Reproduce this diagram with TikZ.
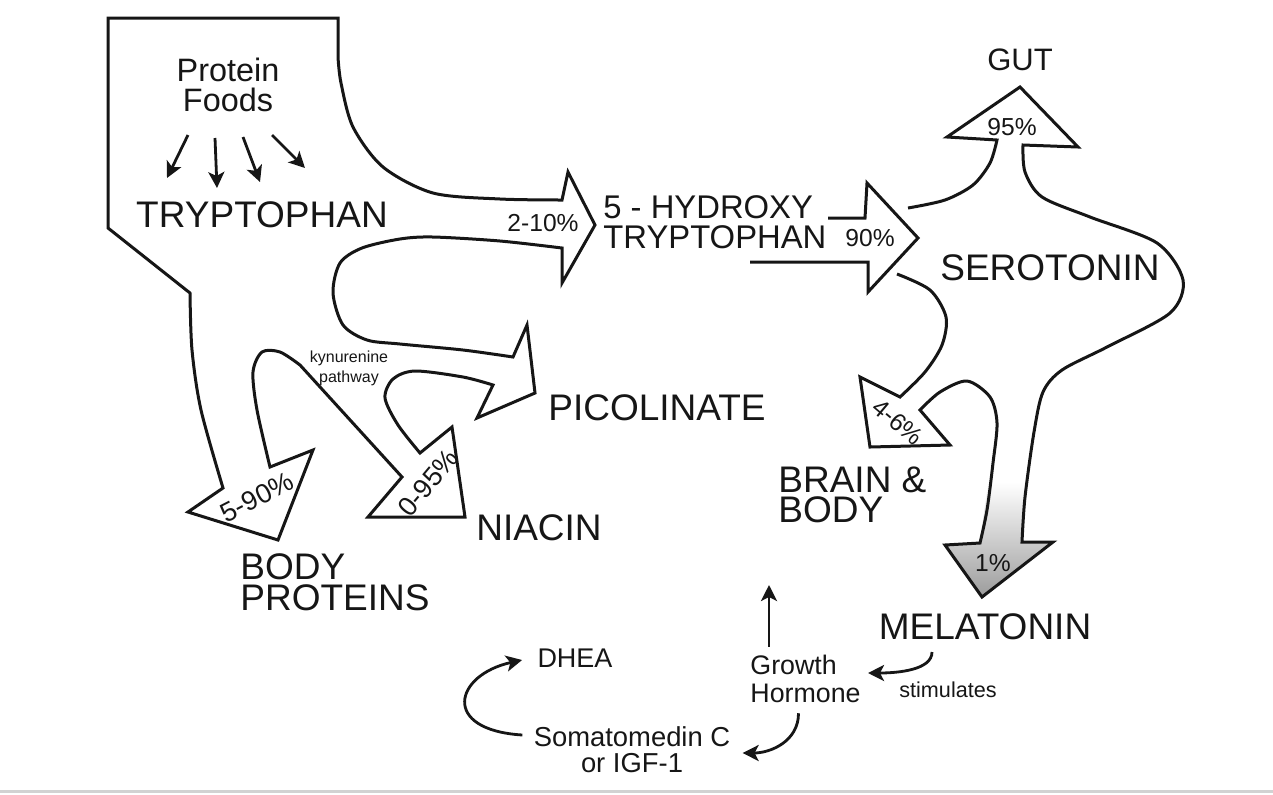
\documentclass[tikz,border=0pt]{standalone}
\usepackage{fontspec}
\setmainfont{Liberation Sans}
\usepackage{xcolor}
\usepackage{tikz}
\usetikzlibrary{positioning,arrows.meta,calc}
\definecolor{trpink}{HTML}{161616}
\definecolor{trpshade}{HTML}{9C9C9C}
\definecolor{trpedge}{HTML}{D2D2D2}

\begin{document}
\begin{tikzpicture}[x=0.5pt,y=-0.5pt,
  flow/.style={draw=trpink,line width=1.5pt},
  big/.style={font=\fontsize{18.5}{15.5}\selectfont,text=trpink,inner sep=0pt,align=left},
  mid/.style={font=\fontsize{16.2}{15}\selectfont,text=trpink,inner sep=0pt,align=left},
  small/.style={font=\fontsize{13.5}{13.5}\selectfont,text=trpink,inner sep=0pt,align=center},
  pct/.style={font=\fontsize{12.3}{12}\selectfont,text=trpink,inner sep=0pt},
  arr/.style={-{Stealth[length=8pt,width=8pt,inset=2pt]},draw=trpink,line width=1.4pt}
]
\useasboundingbox (0,0) rectangle (1273,794);
\draw[trpedge,line width=1.5pt] (0,791) -- (1273,791);

% tryptophan body with its four outlets
\draw[flow] (338,18) -- (108,18) -- (108,228) -- (190,293)
  -- plot[smooth] coordinates {(190,293) (192,350) (201,410) (223,488)}
  -- (188,512) -- (278,540) -- (313,450) -- (270,467)
  -- plot[smooth] coordinates {(270,467) (257,410) (253,372) (262,352) (280,352) (300,365)}
  -- (402,477) -- (368,517) -- (465,517) -- (452,427) -- (420,453)
  -- plot[smooth] coordinates {(420,453) (398,425) (385,398) (393,379) (415,371) (463,377) (493,385)}
  -- (477,418) -- (535,393) -- (527,325) -- (513,357)
  -- plot[smooth] coordinates {(513,357) (463,350) (400,344) (367,340) (343,325) (333,293) (340,263) (362,248) (400,239) (433,237) (500,241) (562,248)}
  -- (562,283) -- (595,225) -- (568,172) -- (562,200)
  -- plot[smooth] coordinates {(562,200) (500,199) (433,193) (383,167) (353,127) (341,83) (338,57)}
  -- cycle;

% serotonin arrow
\draw[flow] (828,218) -- (865,218) -- (867,183) -- (918,238) -- (868,292) -- (868,262) -- (750,262);

% melatonin shading
\shade[top color=white,bottom color=trpshade] (988,482) -- (1026,482) -- (1022,542) -- (1053,542) -- (982,597) -- (945,545) -- (980,543) -- cycle;

% serotonin outlets: gut, melatonin, brain and body
\draw[flow] plot[smooth] coordinates {(908,208) (945,200) (973,185) (990,163) (997,140)}
  -- (947,137) -- (1020,87) -- (1078,147) -- (1023,145)
  -- plot[smooth] coordinates {(1023,145) (1025,172) (1042,197) (1090,217) (1157,243) (1183,280) (1170,313) (1107,347) (1062,370) (1043,392) (1034,432) (1025,497) (1022,542)}
  -- (1053,542) -- (982,597) -- (945,545) -- (980,543)
  -- plot[smooth] coordinates {(980,543) (987,510) (993,463) (997,423) (990,397) (967,381) (940,392) (920,410)}
  -- (950,445) -- (870,447) -- (860,377) -- (900,397)
  -- plot[smooth] coordinates {(900,397) (925,372) (942,345) (946,317) (930,290) (897,274)};

\node[mid,align=center] (foods) at (228,85) {Protein\\Foods};
\node[big] (trp) at (262,215) {TRYPTOPHAN};
\node[mid,anchor=west,font=\fontsize{16.4}{15}\selectfont] (htp) at (603,222) {5 - HYDROXY\\TRYPTOPHAN};
\node[big] (gut) at (1020,60) {\fontsize{15.5}{15}\selectfont GUT};
\node[big] (sero) at (1050,268) {SEROTONIN};
\node[big] (pico) at (657,408) {PICOLINATE};
\node[big] (niacin) at (539,528) {NIACIN};
\node[big,anchor=west] (bodyprot) at (240,582) {BODY\\PROTEINS};
\node[big,anchor=west,font=\fontsize{18.5}{15}\selectfont] (brain) at (778,495) {BRAIN \&\\BODY};
\node[big] (mel) at (985,627) {MELATONIN};
\node[small,anchor=west,align=left,font=\fontsize{13.4}{14}\selectfont] (gh) at (750,679) {Growth\\Hormone};
\node[small,font=\fontsize{13.7}{13}\selectfont] (soma) at (632,750) {Somatomedin C\\or IGF-1};
\node[small] (dhea) at (575,658) {DHEA};
\node[pct,font=\fontsize{10.8}{10}\selectfont] (stim) at (948,690) {stimulates};
\node[pct,align=center,font=\fontsize{8}{10}\selectfont] (kyn) at (349,368) {kynurenine\\pathway};

\node[pct] (p210) at (543,223) {2-10\%};
\node[pct] (p90) at (870,238) {90\%};
\node[pct] (p95) at (1012,127) {95\%};
\node[pct] (p1) at (993,563) {1\%};
\node[pct,font=\fontsize{13.5}{12}\selectfont,rotate=27] (p590) at (257,497) {5-90\%};
\node[pct,font=\fontsize{13.5}{12}\selectfont,rotate=50] (p095) at (428,483) {0-95\%};
\node[pct,rotate=-40] (p46) at (898,422) {4-6\%};

% protein foods feeding tryptophan
\foreach \sx/\sy/\ex/\ey in {-40/50/-95/-37, -13/53/-45/-27, 15/52/-2/-33, 44/50/43/-47}
  \draw[arr] ($(foods.center)+(\sx,\sy)$) -- ($(trp.center)+(\ex,\ey)$);

% hormone loop
\coordinate (up) at (769,585);
\draw[arr] ($(gh.north west)+(19,-8)$) -- (up);
\draw[arr] ($(mel.center)+(-53,25)$) .. controls +(0,18) and +(30,0) .. ($(gh.east)+(7,-6)$);
\draw[arr] ($(gh.south)+(-7,10)$) .. controls +(0,28) and +(28,0) .. ($(soma.east)+(12,3)$);
\draw[arr] ($(soma.west)+(-11,-15)$) .. controls +(-82,-5) and +(-68,15) .. ($(dhea.west)+(-15,2)$);
\end{tikzpicture}
\end{document}
